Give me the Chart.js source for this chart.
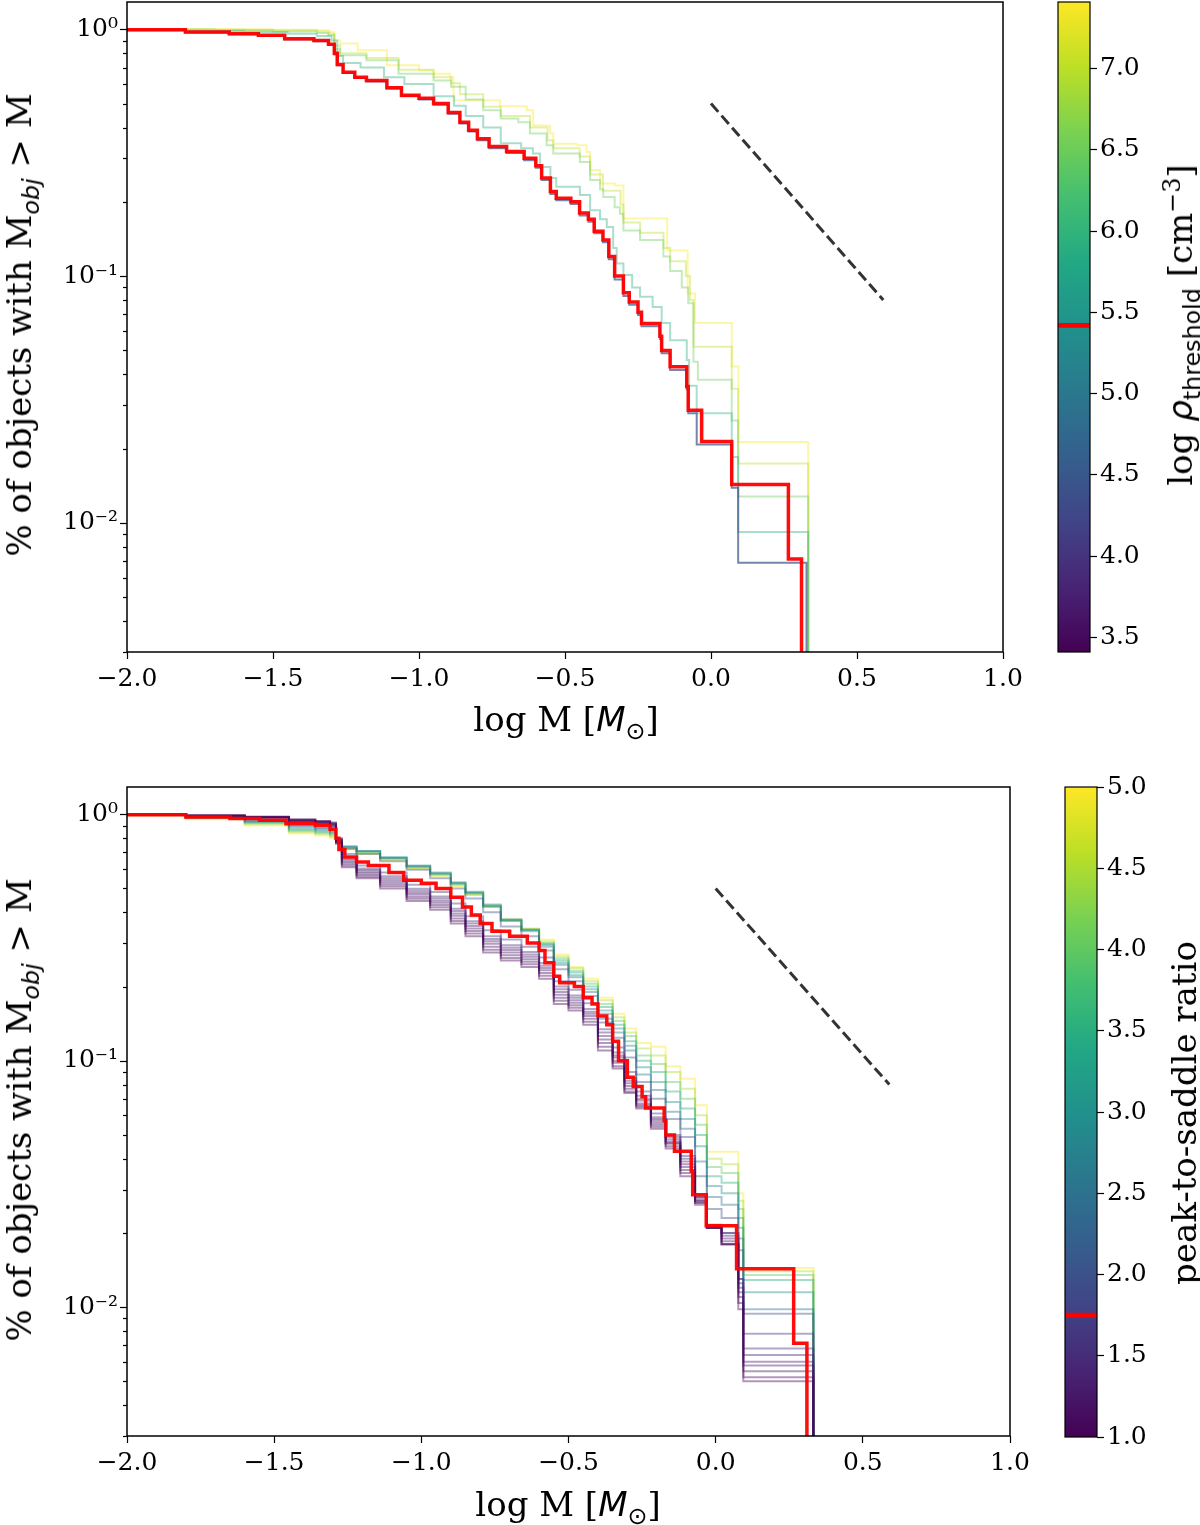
<!DOCTYPE html>
<html>
<head>
<meta charset="utf-8">
<script src="https://cdn.jsdelivr.net/npm/chart.js@4.4.1/dist/chart.umd.min.js"></script>
<style>
  html, body { margin: 0; padding: 0; background: #fff; }
  #page { position: relative; width: 1200px; height: 1525px; overflow: hidden; font-family: 'DejaVu Serif', serif; color: #000; }
  canvas { position: absolute; }
  .lbl { position: absolute; white-space: nowrap; font-size: 34px; line-height: 1; }
  .rot { transform: translate(-50%, -50%) rotate(-90deg); }
  .hor { transform: translate(-50%, -50%); }
  .m { font-family: 'DejaVu Sans', sans-serif; font-style: italic; }
  .s { font-family: 'DejaVu Sans', sans-serif; }
  sub, sup { font-size: 70%; line-height: 0; }
</style>
</head>
<body>
<div id="page">
  <canvas id="topChart" width="1040" height="760" style="left:0;top:0"></canvas>
  <canvas id="topBar" width="160" height="700" style="left:1040px;top:0"></canvas>
  <canvas id="botChart" width="1050" height="755" style="left:0;top:770px"></canvas>
  <canvas id="botBar" width="155" height="755" style="left:1045px;top:770px"></canvas>

  <div class="lbl rot" style="left:19px;top:325px">% of objects with M<sub class="m">obj</sub> &gt; M</div>
  <div class="lbl hor" style="left:566px;top:719px">log M [<span class="m">M</span><sub class="s">⊙</sub>]</div>
  <div class="lbl rot" style="left:1180px;top:325px">log <span class="m">ρ</span><sub class="s">threshold</sub> [cm<sup>−3</sup>]</div>

  <div class="lbl rot" style="left:19px;top:1110px">% of objects with M<sub class="m">obj</sub> &gt; M</div>
  <div class="lbl hor" style="left:568px;top:1504px">log M [<span class="m">M</span><sub class="s">⊙</sub>]</div>
  <div class="lbl rot" style="left:1184px;top:1113px">peak-to-saddle ratio</div>
</div>

<script>
// axes
const massRange = [-2.0, 1.0];
const massTicks = [-2.0, -1.5, -1.0, -0.5, 0.0, 0.5, 1.0];
const fracRange = [0.003, 1.29];
const fracTicks = [0.003, 0.004, 0.005, 0.006, 0.007, 0.008, 0.009,
                   0.01, 0.02, 0.03, 0.04, 0.05, 0.06, 0.07, 0.08, 0.09,
                   0.1, 0.2, 0.3, 0.4, 0.5, 0.6, 0.7, 0.8, 0.9, 1];
const fracLabelVals = [1, 0.1, 0.01];
const fracLabelText = ['10\u2070', '10\u207B\u00B9', '10\u207B\u00B2'];

// colorbars
const rhoRange = [3.41, 7.41];
const rhoTicks = [3.5, 4.0, 4.5, 5.0, 5.5, 6.0, 6.5, 7.0];
const rhoFiducial = 5.42;
const ratioRange = [1.0, 5.0];
const ratioTicks = [1.0, 1.5, 2.0, 2.5, 3.0, 3.5, 4.0, 4.5, 5.0];
const ratioFiducial = 1.75;

// reference slope line
const slopeMass = [0.0, 0.59];
const slopeFrac = [0.5, 0.08];

// fiducial run (red, same in both panels)
const fidMass = [-2.02, -1.80, -1.65, -1.55, -1.46, -1.36, -1.31, -1.29, -1.28, -1.26, -1.22, -1.18, -1.11, -1.06, -1.00, -0.95, -0.90, -0.86, -0.83, -0.80, -0.76, -0.70, -0.64, -0.60, -0.58, -0.55, -0.53, -0.48, -0.45, -0.42, -0.40, -0.37, -0.35, -0.33, -0.30, -0.28, -0.25, -0.238, -0.175, -0.169, -0.14, -0.083, -0.078, -0.032, 0.071, 0.265, 0.31];
const fidFrac = [0.995, 0.975, 0.96, 0.945, 0.915, 0.90, 0.87, 0.80, 0.72, 0.67, 0.64, 0.62, 0.58, 0.54, 0.525, 0.50, 0.46, 0.42, 0.39, 0.36, 0.335, 0.32, 0.30, 0.28, 0.25, 0.22, 0.207, 0.20, 0.18, 0.17, 0.152, 0.14, 0.12, 0.10, 0.0857, 0.0786, 0.0714, 0.0643, 0.0571, 0.05, 0.0429, 0.0357, 0.0286, 0.0214, 0.0143, 0.00714, 0.001];

// top panel: density threshold runs
const rhoValues = [4.4, 5.9, 6.5, 7.0, 7.4];
const blueMass = [-2.02, -1.80, -1.65, -1.55, -1.46, -1.36, -1.31, -1.29, -1.28, -1.26, -1.22, -1.18, -1.11, -1.06, -1.00, -0.95, -0.90, -0.86, -0.83, -0.80, -0.76, -0.70, -0.64, -0.60, -0.58, -0.55, -0.53, -0.48, -0.45, -0.42, -0.40, -0.37, -0.35, -0.33, -0.30, -0.28, -0.25, -0.238, -0.175, -0.169, -0.14, -0.083, -0.078, -0.049, 0.071, 0.093, 0.327];
const blueFrac = [0.99, 0.97, 0.955, 0.94, 0.91, 0.895, 0.865, 0.79, 0.715, 0.665, 0.635, 0.615, 0.575, 0.535, 0.52, 0.495, 0.455, 0.415, 0.385, 0.355, 0.33, 0.315, 0.295, 0.275, 0.245, 0.215, 0.203, 0.196, 0.176, 0.166, 0.149, 0.137, 0.117, 0.097, 0.083, 0.0765, 0.0696, 0.0626, 0.0556, 0.0487, 0.0417, 0.0348, 0.0278, 0.0208, 0.0139, 0.0069, 0.001];
const tealMass = [-2.02, -1.80, -1.60, -1.45, -1.35, -1.30, -1.28, -1.26, -1.20, -1.12, -1.05, -0.95, -0.88, -0.84, -0.78, -0.72, -0.65, -0.61, -0.586, -0.55, -0.53, -0.449, -0.414, -0.38, -0.357, -0.335, -0.323, -0.30, -0.27, -0.243, -0.20, -0.169, -0.14, -0.083, -0.075, -0.049, 0.071, 0.093, 0.333];
const tealFrac = [0.995, 0.985, 0.975, 0.96, 0.94, 0.90, 0.78, 0.73, 0.70, 0.64, 0.60, 0.535, 0.49, 0.445, 0.40, 0.345, 0.33, 0.314, 0.277, 0.25, 0.23, 0.213, 0.185, 0.17, 0.158, 0.13, 0.1125, 0.101, 0.09, 0.0824, 0.075, 0.0645, 0.055, 0.0457, 0.036, 0.0278, 0.0185, 0.0092, 0.001];
const greenMass = [-2.02, -1.70, -1.50, -1.35, -1.31, -1.29, -1.27, -1.18, -1.07, -0.95, -0.89, -0.84, -0.78, -0.72, -0.66, -0.62, -0.563, -0.54, -0.449, -0.414, -0.38, -0.369, -0.33, -0.312, -0.30, -0.243, -0.163, -0.14, -0.10, -0.078, -0.06, -0.045, 0.071, 0.093, 0.333];
const greenFrac = [0.997, 0.99, 0.98, 0.965, 0.945, 0.83, 0.785, 0.75, 0.66, 0.62, 0.585, 0.52, 0.47, 0.435, 0.42, 0.378, 0.339, 0.314, 0.29, 0.245, 0.225, 0.209, 0.19, 0.179, 0.153, 0.14, 0.12, 0.105, 0.09, 0.0776, 0.045, 0.038, 0.026, 0.0128, 0.001];
const limeMass = [-2.02, -1.60, -1.35, -1.31, -1.29, -1.27, -1.18, -1.07, -0.95, -0.89, -0.86, -0.78, -0.72, -0.62, -0.56, -0.54, -0.45, -0.414, -0.37, -0.31, -0.30, -0.243, -0.163, -0.14, -0.086, -0.072, -0.06, 0.071, 0.093, 0.333];
const limeFrac = [0.998, 0.99, 0.98, 0.96, 0.86, 0.80, 0.765, 0.685, 0.64, 0.605, 0.545, 0.485, 0.445, 0.40, 0.355, 0.33, 0.305, 0.258, 0.222, 0.195, 0.165, 0.15, 0.13, 0.115, 0.10, 0.08, 0.0517, 0.035, 0.0174, 0.001];
const yellowMass = [-2.02, -1.50, -1.35, -1.305, -1.29, -1.27, -1.21, -1.11, -1.00, -0.95, -0.894, -0.882, -0.723, -0.631, -0.609, -0.551, -0.54, -0.46, -0.426, -0.414, -0.38, -0.329, -0.30, -0.15, -0.08, -0.055, 0.071, 0.094, 0.333];
const yellowFrac = [1.0, 0.995, 0.99, 0.975, 0.90, 0.875, 0.822, 0.715, 0.682, 0.66, 0.641, 0.516, 0.488, 0.47, 0.408, 0.378, 0.344, 0.339, 0.318, 0.269, 0.237, 0.233, 0.171, 0.127, 0.085, 0.0645, 0.043, 0.0213, 0.001];

// bottom panel: peak-to-saddle runs, shared mass steps
const ratioValues = [1.0, 1.08, 1.15, 1.23, 1.3, 1.38, 1.45, 1.6, 2.0, 2.5, 3.0, 3.5, 4.0, 4.5, 5.0];
const psrMass = [-2.02, -1.80, -1.60, -1.45, -1.36, -1.31, -1.29, -1.27, -1.22, -1.14, -1.05, -0.97, -0.90, -0.85, -0.79, -0.73, -0.66, -0.60, -0.55, -0.50, -0.45, -0.40, -0.35, -0.31, -0.27, -0.22, -0.17, -0.12, -0.07, -0.03, 0.02, 0.077, 0.094, 0.332];
const psr10 = [0.999, 0.99, 0.978, 0.955, 0.94, 0.925, 0.76, 0.61, 0.55, 0.50, 0.445, 0.41, 0.36, 0.32, 0.275, 0.255, 0.24, 0.215, 0.17, 0.16, 0.14, 0.11, 0.093, 0.074, 0.064, 0.053, 0.044, 0.034, 0.027, 0.0216, 0.018, 0.0098, 0.005, 0.001];
const psr108 = [0.998, 0.989, 0.977, 0.951, 0.937, 0.92, 0.765, 0.62, 0.558, 0.51, 0.454, 0.419, 0.369, 0.328, 0.282, 0.261, 0.246, 0.221, 0.175, 0.164, 0.144, 0.114, 0.095, 0.075, 0.065, 0.054, 0.045, 0.035, 0.0265, 0.0213, 0.018, 0.0104, 0.0052, 0.001];
const psr115 = [0.998, 0.988, 0.975, 0.948, 0.933, 0.915, 0.77, 0.63, 0.567, 0.52, 0.463, 0.428, 0.378, 0.336, 0.29, 0.268, 0.252, 0.227, 0.18, 0.168, 0.148, 0.118, 0.098, 0.077, 0.066, 0.055, 0.046, 0.036, 0.026, 0.021, 0.018, 0.011, 0.0055, 0.001];
const psr123 = [0.998, 0.987, 0.974, 0.944, 0.929, 0.91, 0.775, 0.64, 0.576, 0.53, 0.472, 0.437, 0.387, 0.344, 0.298, 0.275, 0.258, 0.233, 0.185, 0.172, 0.152, 0.122, 0.10, 0.079, 0.067, 0.056, 0.0465, 0.037, 0.0265, 0.021, 0.0185, 0.0115, 0.0058, 0.001];
const psr13 = [0.998, 0.985, 0.972, 0.94, 0.925, 0.905, 0.78, 0.65, 0.585, 0.54, 0.48, 0.446, 0.396, 0.352, 0.305, 0.281, 0.264, 0.238, 0.19, 0.176, 0.155, 0.126, 0.103, 0.081, 0.069, 0.057, 0.047, 0.038, 0.027, 0.021, 0.019, 0.012, 0.006, 0.001];
const psr138 = [0.997, 0.984, 0.97, 0.936, 0.921, 0.90, 0.785, 0.66, 0.594, 0.55, 0.489, 0.455, 0.405, 0.36, 0.312, 0.287, 0.27, 0.243, 0.195, 0.18, 0.158, 0.13, 0.105, 0.083, 0.07, 0.058, 0.048, 0.039, 0.0275, 0.021, 0.0195, 0.0125, 0.0064, 0.001];
const psr145 = [0.997, 0.982, 0.968, 0.932, 0.917, 0.895, 0.79, 0.67, 0.603, 0.56, 0.498, 0.464, 0.414, 0.368, 0.32, 0.294, 0.276, 0.249, 0.20, 0.184, 0.162, 0.134, 0.108, 0.085, 0.072, 0.059, 0.049, 0.04, 0.028, 0.021, 0.02, 0.013, 0.0068, 0.001];
const psr16 = [0.996, 0.979, 0.964, 0.925, 0.91, 0.885, 0.80, 0.69, 0.62, 0.58, 0.518, 0.484, 0.434, 0.386, 0.338, 0.31, 0.29, 0.262, 0.21, 0.194, 0.171, 0.143, 0.113, 0.09, 0.075, 0.061, 0.05, 0.041, 0.028, 0.021, 0.02, 0.013, 0.0078, 0.001];
const psr20 = [0.995, 0.975, 0.945, 0.90, 0.88, 0.86, 0.79, 0.725, 0.69, 0.645, 0.595, 0.55, 0.50, 0.455, 0.40, 0.35, 0.32, 0.28, 0.235, 0.21, 0.183, 0.148, 0.124, 0.103, 0.082, 0.07, 0.058, 0.049, 0.034, 0.025, 0.023, 0.017, 0.0094, 0.001];
const psr25 = [0.994, 0.972, 0.94, 0.89, 0.87, 0.85, 0.795, 0.74, 0.71, 0.665, 0.615, 0.575, 0.525, 0.48, 0.425, 0.37, 0.335, 0.29, 0.245, 0.218, 0.19, 0.155, 0.13, 0.11, 0.088, 0.076, 0.062, 0.053, 0.039, 0.028, 0.026, 0.019, 0.0098, 0.001];
const psr30 = [0.993, 0.97, 0.93, 0.875, 0.86, 0.84, 0.79, 0.74, 0.71, 0.67, 0.62, 0.58, 0.53, 0.485, 0.43, 0.375, 0.34, 0.295, 0.25, 0.222, 0.195, 0.16, 0.135, 0.115, 0.094, 0.082, 0.068, 0.058, 0.045, 0.031, 0.029, 0.021, 0.0115, 0.001];
const psr35 = [0.992, 0.967, 0.925, 0.865, 0.85, 0.83, 0.785, 0.735, 0.705, 0.665, 0.615, 0.575, 0.525, 0.48, 0.425, 0.372, 0.34, 0.298, 0.255, 0.228, 0.20, 0.165, 0.14, 0.12, 0.10, 0.09, 0.075, 0.064, 0.05, 0.034, 0.032, 0.023, 0.0129, 0.001];
const psr40 = [0.992, 0.965, 0.92, 0.855, 0.84, 0.82, 0.78, 0.73, 0.70, 0.66, 0.61, 0.57, 0.52, 0.475, 0.42, 0.37, 0.34, 0.30, 0.26, 0.232, 0.205, 0.17, 0.145, 0.126, 0.105, 0.097, 0.082, 0.07, 0.055, 0.037, 0.035, 0.025, 0.0135, 0.001];
const psr45 = [0.99, 0.96, 0.91, 0.845, 0.83, 0.81, 0.775, 0.725, 0.695, 0.655, 0.605, 0.565, 0.515, 0.47, 0.42, 0.372, 0.342, 0.305, 0.265, 0.237, 0.21, 0.176, 0.15, 0.13, 0.112, 0.105, 0.09, 0.077, 0.06, 0.04, 0.038, 0.027, 0.014, 0.001];
const psr50 = [0.99, 0.955, 0.90, 0.835, 0.82, 0.80, 0.77, 0.72, 0.69, 0.65, 0.60, 0.56, 0.51, 0.47, 0.42, 0.375, 0.345, 0.31, 0.27, 0.24, 0.215, 0.18, 0.155, 0.135, 0.118, 0.114, 0.095, 0.0845, 0.066, 0.0427, 0.0427, 0.029, 0.0144, 0.001];

// viridis colormap
const viridisStops = ['#440154', '#482475', '#414487', '#355f8d', '#2a788e', '#21918c', '#22a884', '#44bf70', '#7ad151', '#bddf26', '#fde725'];

function hexRgb(h) {
    return [1, 3, 5].map(i => parseInt(h.slice(i, i + 2), 16));
}

function viridis(t, alpha) {
    t = Math.min(1, Math.max(0, t));
    const f = t * (viridisStops.length - 1);
    const i = Math.min(Math.floor(f), viridisStops.length - 2);
    const r = f - i;
    const a = hexRgb(viridisStops[i]), b = hexRgb(viridisStops[i + 1]);
    const c = a.map((v, k) => Math.round(v + (b[k] - v) * r));
    return `rgba(${c[0]},${c[1]},${c[2]},${alpha})`;
}

Chart.defaults.font.family = 'DejaVu Serif, serif';
const tickFont = { family: 'DejaVu Serif, serif', size: 25 };
const fmt1 = v => (v < 0 ? '\u2212' : '') + Math.abs(v).toFixed(1);

function stepSet(mass, frac, color, width) {
    return {
        data: mass.map((m, i) => ({ x: m, y: frac[i] })),
        borderColor: color, borderWidth: width, stepped: true,
        pointRadius: 0, fill: false, clip: 0
    };
}

const slopeSet = {
    data: slopeMass.map((m, i) => ({ x: m, y: slopeFrac[i] })),
    borderColor: '#333333', borderWidth: 3, borderDash: [11, 5],
    pointRadius: 0, fill: false, clip: 0
};

// box around the axes + log ticks (major and minor)
const frame = {
    id: 'frame',
    afterDatasetsDraw(chart) {
        const { ctx, chartArea: a, scales } = chart;
        ctx.save();
        ctx.strokeStyle = '#000';
        ctx.lineWidth = 1.5;
        ctx.strokeRect(a.left, a.top, a.right - a.left, a.bottom - a.top);
        const y = scales.y;
        ctx.lineWidth = 1.2;
        y.ticks.forEach(t => {
            const py = Math.round(y.getPixelForValue(t.value)) + 0.5;
            const len = fracLabelVals.includes(t.value) ? 7 : 4;
            ctx.beginPath();
            ctx.moveTo(a.left - len, py);
            ctx.lineTo(a.left, py);
            ctx.stroke();
        });
        ctx.restore();
    }
};

function panel(id, sets, pad, axisH) {
    return new Chart(document.getElementById(id), {
        type: 'line',
        data: { datasets: sets },
        options: {
            responsive: false, animation: false, events: [],
            layout: { padding: pad },
            plugins: { legend: { display: false }, tooltip: { enabled: false } },
            scales: {
                x: {
                    type: 'linear', min: massRange[0], max: massRange[1],
                    afterBuildTicks: s => { s.ticks = massTicks.map(v => ({ value: v })); },
                    afterFit: s => { s.height = axisH; s.paddingLeft = 0; s.paddingRight = 0; },
                    grid: { drawOnChartArea: false, drawTicks: true, tickLength: 7, tickWidth: 1.2, tickColor: '#000' },
                    border: { display: false },
                    ticks: { autoSkip: false, maxRotation: 0, padding: 5, font: tickFont, color: '#000', callback: v => fmt1(v) }
                },
                y: {
                    type: 'logarithmic', min: fracRange[0], max: fracRange[1],
                    afterBuildTicks: s => { s.ticks = fracTicks.map(v => ({ value: v })); },
                    afterFit: s => { s.width = 127; s.paddingTop = 0; s.paddingBottom = 0; },
                    grid: { display: false, drawTicks: false },
                    border: { display: false },
                    ticks: {
                        autoSkip: false, padding: 9, font: tickFont, color: '#000',
                        callback: v => { const i = fracLabelVals.indexOf(v); return i < 0 ? '' : fracLabelText[i]; }
                    }
                }
            }
        },
        plugins: [frame]
    });
}

const outline = {
    id: 'outline',
    afterDatasetsDraw(chart) {
        const { ctx, chartArea: a } = chart;
        ctx.save();
        ctx.strokeStyle = '#000';
        ctx.lineWidth = 1.2;
        ctx.strokeRect(a.left, a.top, a.right - a.left, a.bottom - a.top);
        ctx.restore();
    }
};

function colorbar(id, range, ticks, fid, pad, axisW) {
    const band = (range[1] - range[0]) * 0.0032;
    return new Chart(document.getElementById(id), {
        type: 'bar',
        data: {
            labels: [''],
            datasets: [
                { data: [[fid - band, fid + band]], backgroundColor: '#ff0000', grouped: false, barPercentage: 1, categoryPercentage: 1 },
                {
                    data: [range], grouped: false, barPercentage: 1, categoryPercentage: 1,
                    backgroundColor: ctx => {
                        const a = ctx.chart.chartArea;
                        if (!a) return viridisStops[5];
                        const g = ctx.chart.ctx.createLinearGradient(0, a.bottom, 0, a.top);
                        viridisStops.forEach((c, i) => g.addColorStop(i / (viridisStops.length - 1), c));
                        return g;
                    }
                }
            ]
        },
        options: {
            responsive: false, animation: false, events: [],
            layout: { padding: pad },
            plugins: { legend: { display: false }, tooltip: { enabled: false } },
            scales: {
                x: { display: false },
                y: {
                    position: 'right', min: range[0], max: range[1],
                    afterBuildTicks: s => { s.ticks = ticks.map(v => ({ value: v })); },
                    afterFit: s => { s.width = axisW; s.paddingTop = 0; s.paddingBottom = 0; },
                    grid: { drawOnChartArea: false, drawTicks: true, tickLength: 7, tickWidth: 1.2, tickColor: '#000' },
                    border: { display: false },
                    ticks: { autoSkip: false, padding: 3, font: tickFont, color: '#000', callback: v => v.toFixed(1) }
                }
            }
        },
        plugins: [outline]
    });
}

const rhoColor = (v, a) => viridis((v - rhoRange[0]) / (rhoRange[1] - rhoRange[0]), a);
const ratioColor = (v, a) => viridis((v - ratioRange[0]) / (ratioRange[1] - ratioRange[0]), a);

const topSets = [
    stepSet(fidMass, fidFrac, 'rgba(255,0,0,0.95)', 3.5),
    slopeSet,
    stepSet(blueMass, blueFrac, rhoColor(rhoValues[0], 0.7), 2),
    stepSet(tealMass, tealFrac, rhoColor(rhoValues[1], 0.4), 2),
    stepSet(greenMass, greenFrac, rhoColor(rhoValues[2], 0.4), 2),
    stepSet(limeMass, limeFrac, rhoColor(rhoValues[3], 0.4), 2),
    stepSet(yellowMass, yellowFrac, rhoColor(rhoValues[4], 0.4), 2)
];

const psrFracs = [psr10, psr108, psr115, psr123, psr13, psr138, psr145, psr16, psr20, psr25, psr30, psr35, psr40, psr45, psr50];
const botSets = [
    stepSet(fidMass, fidFrac, 'rgba(255,0,0,0.95)', 3.5),
    { ...slopeSet }
].concat(psrFracs.map((f, i) => stepSet(psrMass, f, ratioColor(ratioValues[i], 0.42), 2)));

panel('topChart', topSets, { left: 0, top: 2, right: 37, bottom: 0 }, 108);
colorbar('topBar', rhoRange, rhoTicks, rhoFiducial, { left: 18, top: 2, right: 0, bottom: 48 }, 110);
panel('botChart', botSets, { left: 0, top: 17, right: 40, bottom: 0 }, 89);
colorbar('botBar', ratioRange, ratioTicks, ratioFiducial, { left: 20, top: 17, right: 0, bottom: 88 }, 103);
</script>
</body>
</html>
